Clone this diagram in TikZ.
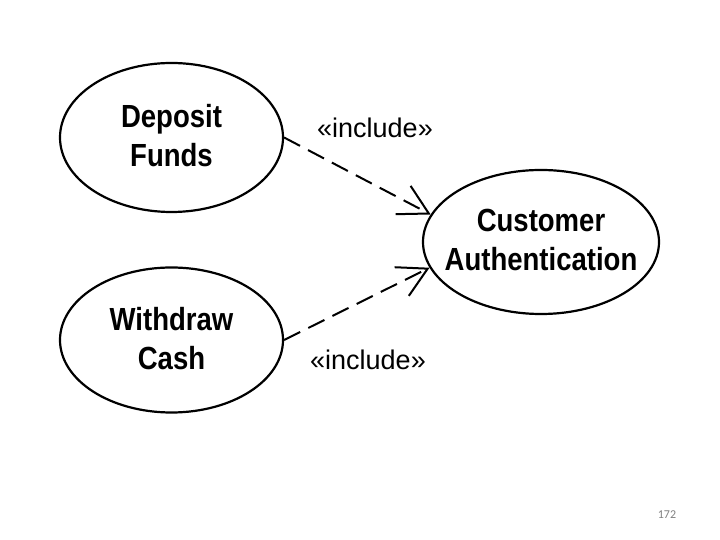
\documentclass[tikz,border=0pt]{standalone}
\usepackage{fontspec}
\setmainfont{Liberation Sans}
\newfontfamily\ucfont[FakeStretch=0.86]{Liberation Sans Bold}
\newfontfamily\pagefont{Carlito}
\usetikzlibrary{shapes.geometric,arrows.meta}
\begin{document}
\begin{tikzpicture}[x=1pt,y=1pt,
  ucase/.style={draw=black, line width=2.2pt, ellipse, inner sep=0pt},
  uctext/.style={align=center, font=\ucfont\fontsize{32}{39}\selectfont, inner sep=0pt},
  incl/.style={font=\fontsize{27}{30}\selectfont, inner sep=0pt, anchor=base},
  dep/.style={draw=black, line width=2pt, dash pattern=on 18pt off 9pt,
    -{Straight Barb[length=29pt,width=32pt,line width=2pt]}}
]
\path[fill=white] (0,0) rectangle (720,540);
\useasboundingbox (0,0) rectangle (720,540);

\node[ucase, minimum width=223pt, minimum height=149pt] (deposit) at (171.5,402.5) {};
\node[uctext] (deposittxt) at (171.5,404) {Deposit\\Funds};

\node[ucase, minimum width=223pt, minimum height=145pt] (withdraw) at (171.5,200) {};
\node[uctext] (withdrawtxt) at (171.5,201) {Withdraw\\Cash};

\node[ucase, minimum width=236pt, minimum height=144pt] (auth) at (541,298) {};
\node[uctext] (authtxt) at (541,300) {Customer\\Authentication};

\draw[dep] (deposit.0) -- (auth.166);
\draw[dep] (withdraw.0) -- (auth.193);

\node[incl] (incl1) at (375,402) {«include»};
\node[incl] (incl2) at (368,170) {«include»};

\node[font=\pagefont\fontsize{12}{14}\selectfont, text=black!50, inner sep=0pt] (pagenum) at (667,25) {172};
\end{tikzpicture}
\end{document}
